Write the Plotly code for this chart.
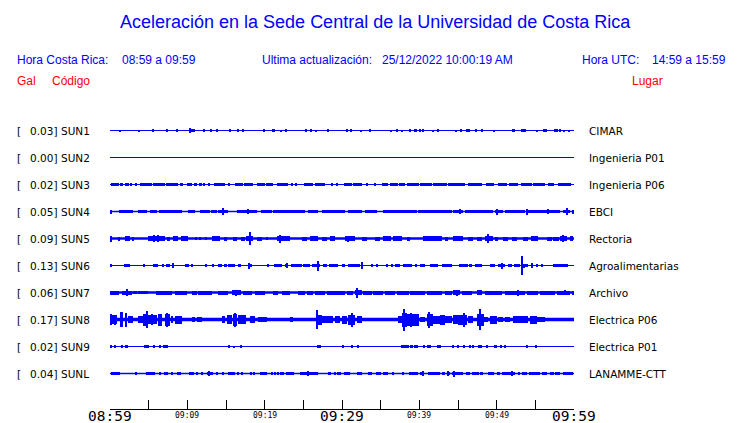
import plotly.graph_objects as go

# ---------------- data ----------------
codes = ["SUN1", "SUN2", "SUN3", "SUN4", "SUN5", "SUN6", "SUN7", "SUN8", "SUN9", "SUNL"]
peaks = ["0.03", "0.00", "0.02", "0.05", "0.09", "0.13", "0.06", "0.17", "0.02", "0.04"]
places = ["CIMAR", "Ingenieria P01", "Ingenieria P06", "EBCI", "Rectoria",
          "Agroalimentarias", "Archivo", "Electrica P06", "Electrica P01", "LANAMME-CTT"]

tick_minutes = [0, 5, 10, 15, 20, 25, 30, 35, 40, 45, 50, 55, 60]
tick_labels = ["08:59", "", "09:09", "", "09:19", "", "09:29", "", "09:39", "", "09:49", "", "09:59"]
big_labels = ["08:59", "09:29", "09:59"]

# bursts: (start minute after 08:59, end minute, half amplitude, relative units)
sun1 = [(1.2, 1.3, 1.0), (3.65, 3.75, 1.0), (5.5, 5.6, 1.3), (7.25, 7.45, 1.5), (8.55, 8.65, 1.2),
        (10.25, 10.45, 2.8), (10.45, 11.0, 1.6), (12.1, 12.2, 1.1), (13.05, 13.15, 1.1), (13.8, 13.9, 1.3),
        (15.4, 15.55, 1.5), (16.55, 16.65, 1.2), (17.15, 17.25, 1.2), (19.85, 20.0, 1.4), (21.0, 21.35, 1.3),
        (22.0, 22.1, 1.0), (22.7, 22.8, 1.3), (25.35, 25.45, 1.2), (25.95, 26.1, 1.5), (26.55, 26.65, 1.0),
        (28.1, 28.35, 1.5), (30.55, 30.65, 1.2), (31.1, 31.2, 1.3), (32.35, 32.45, 1.0), (33.5, 33.7, 1.4),
        (36.3, 36.4, 1.0), (36.95, 37.3, 1.3), (37.75, 37.85, 1.0), (38.75, 38.85, 1.2), (39.3, 39.65, 1.3),
        (40.0, 40.25, 1.3), (40.45, 40.55, 1.2), (41.7, 41.8, 1.0), (42.3, 42.5, 1.5), (44.75, 44.85, 1.0),
        (45.3, 45.5, 1.3), (46.0, 46.6, 1.3), (47.25, 47.5, 1.5), (48.05, 48.15, 1.2), (49.65, 49.75, 1.0),
        (52.0, 52.4, 1.3), (53.1, 53.8, 1.6), (55.2, 55.3, 1.0), (56.0, 56.5, 1.5), (57.45, 57.9, 1.5),
        (58.15, 58.25, 1.2), (58.7, 58.8, 1.0), (59.35, 59.45, 1.0)]
sun2 = []
sun3 = [(0.1, 1.1, 1.8), (1.3, 1.7, 1.5), (1.95, 2.45, 1.6), (2.7, 2.8, 1.4), (3.2, 3.55, 1.6),
        (3.9, 5.4, 1.7), (5.6, 7.1, 1.7), (7.3, 8.85, 1.7), (9.05, 9.5, 1.6), (9.9, 10.55, 1.7),
        (10.9, 11.2, 1.5), (11.55, 11.85, 1.5), (12.05, 12.3, 1.5), (12.7, 12.95, 1.6), (13.45, 14.85, 1.7),
        (15.35, 15.45, 1.4), (16.15, 17.2, 1.7), (17.35, 18.5, 1.7), (18.95, 20.0, 1.7), (20.15, 21.1, 1.7),
        (21.55, 23.05, 1.7), (23.5, 23.7, 1.5), (24.0, 24.15, 1.5), (25.1, 26.3, 1.7), (26.45, 27.8, 1.7),
        (28.65, 28.9, 1.5), (29.3, 29.5, 1.5), (30.25, 31.3, 1.6), (31.45, 32.55, 1.6), (33.2, 33.3, 1.4),
        (34.25, 34.35, 1.4), (35.2, 36.0, 1.7), (36.15, 37.2, 1.7), (37.35, 38.15, 1.7), (38.35, 39.9, 1.7),
        (40.05, 41.6, 1.7), (41.8, 43.6, 1.7), (43.75, 45.9, 1.7), (46.25, 48.05, 1.7), (48.6, 49.7, 1.6),
        (50.2, 51.4, 1.7), (51.55, 52.8, 1.7), (53.15, 54.6, 1.7), (54.75, 56.25, 1.7), (56.7, 57.35, 1.6),
        (57.9, 59.6, 1.7)]
sun4 = [(0.0, 0.2, 2.0), (1.1, 3.0, 1.5), (3.65, 4.75, 1.4), (5.15, 6.05, 1.4), (6.35, 9.25, 1.5),
        (10.1, 11.0, 1.4), (11.65, 12.95, 1.4), (13.05, 13.8, 1.5), (14.0, 15.3, 1.6), (14.6, 14.75, 3.3),
        (16.4, 18.95, 1.6), (17.85, 17.95, 2.5), (19.5, 20.9, 1.5), (21.1, 25.2, 1.5), (25.65, 26.95, 1.5),
        (27.35, 30.4, 1.5), (30.75, 32.55, 1.5), (33.0, 34.5, 1.4), (35.35, 39.65, 1.5), (39.85, 44.2, 1.5),
        (44.4, 45.7, 1.6), (45.2, 45.3, 2.5), (45.9, 49.55, 1.5), (49.8, 50.85, 1.5), (50.05, 50.15, 3.0),
        (51.1, 53.65, 1.5), (53.75, 56.5, 1.5), (53.85, 53.95, 3.0), (56.55, 56.65, 2.2), (56.7, 58.2, 1.5),
        (58.6, 59.5, 1.6), (59.0, 59.1, 3.3), (59.7, 60.0, 2.0)]
sun5 = [(0.0, 0.3, 3.0), (1.1, 1.3, 2.0), (2.0, 2.6, 2.2), (2.8, 3.1, 2.0), (4.95, 7.1, 2.5),
        (5.6, 5.7, 3.2), (6.1, 6.2, 3.2), (7.35, 7.75, 2.0), (8.2, 8.85, 2.2), (9.2, 10.1, 2.2),
        (11.0, 11.2, 1.8), (11.6, 11.7, 1.8), (12.3, 12.5, 1.8), (13.15, 14.2, 2.3), (14.85, 15.1, 2.0),
        (15.95, 16.4, 2.0), (17.0, 17.45, 2.0), (17.65, 18.55, 2.5), (18.05, 18.15, 6.3), (18.95, 19.6, 2.0),
        (20.2, 20.3, 1.8), (21.55, 23.3, 2.5), (21.95, 22.05, 4.0), (24.8, 25.45, 2.0), (25.85, 26.95, 2.2),
        (27.35, 28.0, 2.0), (28.45, 29.1, 2.2), (30.4, 31.7, 2.2), (30.75, 30.85, 3.0), (32.55, 33.2, 2.0),
        (34.25, 34.9, 2.0), (35.35, 36.4, 2.2), (36.65, 37.7, 2.5), (38.35, 38.8, 2.0), (40.5, 42.9, 2.2),
        (43.3, 43.75, 2.0), (44.4, 45.7, 2.5), (46.35, 47.0, 2.0), (47.4, 48.05, 2.0), (48.5, 49.55, 2.5),
        (48.85, 48.95, 4.5), (49.8, 50.2, 2.0), (50.85, 51.5, 2.0), (51.95, 52.6, 2.0), (53.45, 54.1, 2.0),
        (54.5, 55.4, 2.5), (56.45, 57.1, 2.0), (57.3, 58.0, 2.0), (58.2, 59.05, 2.5), (58.55, 58.65, 3.5),
        (59.5, 59.9, 2.2)]
sun6 = [(0.0, 0.2, 1.5), (1.85, 2.65, 1.8), (4.4, 4.5, 1.2), (5.6, 6.25, 1.6), (6.75, 7.0, 1.5),
        (7.3, 7.75, 1.6), (8.05, 8.3, 2.5), (9.7, 10.25, 1.6), (10.6, 10.7, 1.2), (12.35, 12.6, 1.3),
        (13.2, 13.5, 1.4), (14.0, 14.45, 1.5), (14.85, 15.1, 1.4), (15.3, 16.15, 1.5), (16.5, 16.95, 1.6),
        (17.8, 18.4, 1.8), (17.9, 18.0, 3.0), (20.35, 20.5, 1.3), (21.2, 22.2, 1.6), (22.6, 23.05, 1.8),
        (22.8, 22.9, 2.5), (23.4, 24.8, 1.6), (25.0, 25.85, 1.6), (26.1, 27.15, 1.8), (26.8, 26.9, 5.0),
        (27.6, 28.0, 1.5), (28.3, 29.5, 1.6), (30.05, 30.4, 1.4), (30.75, 32.35, 1.6), (32.45, 32.75, 2.0),
        (32.5, 32.6, 3.5), (33.85, 34.05, 1.4), (34.45, 34.55, 1.2), (35.65, 36.0, 1.4), (36.4, 36.5, 1.2),
        (36.85, 37.5, 1.6), (37.95, 39.0, 1.6), (39.45, 39.65, 1.4), (40.1, 40.75, 1.6), (41.4, 42.45, 1.6),
        (42.9, 44.2, 1.6), (45.15, 46.35, 1.6), (46.55, 46.75, 1.4), (47.2, 48.05, 1.6), (49.15, 49.8, 1.5),
        (50.2, 51.1, 1.8), (50.6, 50.7, 3.0), (51.5, 51.95, 1.5), (52.3, 53.0, 1.6), (53.25, 53.6, 2.0),
        (53.28, 53.38, 9.5), (53.75, 54.0, 1.6), (54.5, 54.75, 2.5), (55.15, 55.4, 1.4), (55.8, 56.0, 1.4),
        (57.3, 59.25, 1.6)]
sun7 = [(0.0, 1.15, 2.0), (1.5, 2.8, 2.0), (2.2, 2.3, 3.5), (3.0, 3.45, 1.8), (3.65, 4.95, 1.8),
        (5.9, 8.0, 2.0), (8.4, 9.9, 2.0), (10.55, 11.2, 2.0), (11.4, 13.15, 2.0), (14.0, 15.3, 2.0),
        (15.75, 17.0, 2.2), (16.25, 16.35, 3.0), (17.25, 18.3, 2.0), (18.75, 20.05, 2.0), (21.1, 21.75, 2.0),
        (22.2, 23.3, 2.0), (24.35, 25.2, 2.0), (25.45, 26.3, 2.0), (26.5, 27.8, 2.0), (28.0, 30.4, 2.0),
        (30.6, 31.45, 2.0), (31.7, 32.55, 2.5), (31.95, 32.05, 5.0), (32.75, 33.85, 2.0), (34.05, 35.35, 2.0),
        (35.55, 36.85, 2.0), (37.05, 38.6, 2.0), (38.8, 40.75, 2.0), (40.95, 42.9, 2.0), (43.3, 44.2, 2.0),
        (44.4, 45.25, 2.2), (44.8, 44.9, 3.0), (45.5, 46.75, 2.0), (47.4, 48.05, 2.5), (48.5, 50.65, 2.0),
        (51.1, 53.65, 2.0), (52.75, 52.85, 3.0), (53.9, 55.4, 2.0), (55.6, 57.55, 2.0), (57.75, 59.5, 2.0),
        (58.8, 58.9, 2.5), (59.7, 60.0, 2.0)]
sun8 = [(0.0, 0.85, 4.5), (0.1, 0.2, 5.5), (0.6, 0.7, 5.0), (1.4, 1.65, 7.3), (1.95, 2.15, 7.0),
        (2.35, 3.0, 3.3), (3.65, 4.3, 3.3), (4.3, 4.95, 6.0), (4.7, 4.8, 8.5), (4.95, 6.05, 4.5),
        (5.4, 5.5, 5.5), (6.25, 6.7, 6.0), (7.1, 7.75, 6.0), (7.35, 7.45, 7.0), (7.85, 8.2, 3.3),
        (8.4, 9.25, 4.0), (10.55, 11.0, 2.7), (11.2, 11.85, 2.7), (14.45, 14.85, 3.3), (15.1, 15.75, 4.5),
        (15.95, 16.4, 6.0), (16.15, 16.25, 7.0), (16.6, 17.65, 4.5), (18.1, 18.75, 3.3), (19.2, 20.25, 2.2),
        (23.3, 23.7, 2.2), (26.65, 27.35, 5.0), (26.75, 26.85, 9.5), (27.35, 28.9, 3.3), (29.1, 29.75, 3.3),
        (29.95, 30.6, 4.0), (30.8, 31.7, 5.0), (31.2, 31.3, 7.0), (31.9, 32.55, 3.3), (37.3, 37.7, 3.3),
        (37.7, 38.4, 7.0), (37.95, 38.05, 11.0), (38.4, 39.9, 6.0), (38.9, 39.0, 7.0), (40.1, 40.75, 2.7),
        (41.0, 41.8, 6.0), (41.15, 41.25, 8.0), (41.8, 42.7, 4.0), (42.7, 43.3, 5.0), (43.3, 44.2, 3.3),
        (44.4, 45.05, 4.3), (45.05, 46.1, 5.0), (45.75, 45.85, 7.0), (46.3, 47.0, 3.3), (47.4, 48.3, 6.0),
        (47.8, 47.9, 10.5), (48.3, 48.9, 2.7), (49.1, 50.0, 4.0), (50.2, 50.85, 2.7), (51.05, 51.7, 2.3),
        (52.15, 53.2, 3.3), (53.2, 54.1, 3.3), (54.3, 55.2, 4.0), (55.2, 56.25, 2.7)]
sun9 = [(0.1, 0.3, 1.5), (0.6, 0.7, 1.2), (1.4, 1.7, 1.5), (1.95, 2.35, 1.5), (4.4, 5.05, 1.5),
        (5.65, 5.75, 1.2), (6.35, 6.6, 1.5), (6.9, 7.45, 1.5), (15.4, 15.5, 1.2), (15.95, 16.15, 1.0),
        (16.8, 17.1, 1.2), (26.75, 27.3, 1.5), (30.0, 30.2, 1.4), (31.15, 31.45, 1.4), (31.95, 32.2, 1.4),
        (37.6, 38.65, 1.5), (38.9, 39.15, 1.4), (39.35, 39.8, 1.5), (40.5, 40.6, 1.2), (40.95, 41.5, 1.5),
        (42.3, 42.8, 1.5), (44.3, 44.4, 1.2), (44.9, 45.15, 1.4), (45.7, 45.9, 1.4), (46.45, 46.55, 1.2),
        (46.9, 47.1, 1.3), (47.55, 48.05, 1.5), (48.75, 48.85, 1.1), (49.75, 50.0, 1.4), (50.5, 50.6, 1.1),
        (51.05, 51.15, 1.1), (53.85, 53.95, 1.2), (55.0, 55.1, 1.2)]
sunl = [(0.1, 1.3, 1.7), (3.35, 3.45, 1.3), (4.6, 5.8, 1.7), (6.45, 6.55, 1.3), (7.0, 7.55, 1.7),
        (7.95, 8.05, 1.3), (8.6, 9.2, 1.7), (10.2, 10.8, 1.7), (11.25, 11.35, 1.3), (11.8, 11.9, 1.3),
        (12.55, 13.3, 1.8), (12.75, 12.85, 2.5), (13.75, 13.85, 1.3), (14.45, 14.75, 1.5), (15.3, 16.15, 1.7),
        (16.45, 16.55, 1.3), (16.95, 17.25, 1.4), (18.15, 18.25, 1.2), (18.6, 18.7, 1.2), (19.4, 20.35, 1.7),
        (20.9, 21.0, 1.3), (21.3, 21.4, 1.3), (21.65, 21.75, 1.3), (22.0, 22.1, 1.3), (22.35, 22.45, 1.3),
        (22.8, 22.9, 1.3), (23.05, 23.85, 1.6), (24.55, 26.95, 1.8), (25.5, 25.6, 2.2), (28.15, 28.6, 1.6),
        (29.0, 29.1, 1.3), (29.4, 29.85, 1.5), (30.2, 31.05, 1.6), (31.9, 32.65, 1.6), (33.4, 33.85, 1.5),
        (34.35, 35.05, 1.7), (35.35, 36.0, 1.6), (36.5, 36.75, 1.4), (37.7, 38.0, 1.4), (38.6, 39.85, 1.7),
        (40.1, 40.65, 1.7), (40.45, 40.55, 2.5), (41.1, 42.65, 1.8), (42.95, 43.3, 1.5), (43.55, 43.95, 1.7),
        (43.6, 43.7, 2.5), (44.2, 45.7, 1.8), (44.45, 44.55, 3.0), (46.05, 46.55, 1.6), (46.75, 47.7, 1.7),
        (47.95, 48.2, 1.4), (48.85, 49.7, 1.7), (50.0, 50.45, 1.5), (50.65, 52.35, 1.8), (51.95, 52.05, 2.5),
        (52.8, 53.0, 1.4), (53.3, 53.9, 1.6), (54.2, 55.6, 1.7), (55.9, 56.45, 1.6), (56.9, 57.35, 1.5),
        (57.55, 58.2, 1.6), (58.6, 59.9, 1.7)]

bursts = [sun1, sun2, sun3, sun4, sun5, sun6, sun7, sun8, sun9, sunl]

# ---------------- styling ----------------
BLUE = "#0000ff"
RED = "#ff0000"
ROW_PX = 27.0            # pixels per row unit
AMP = 1.0 / ROW_PX       # relative amplitude -> row units
SHIFT = 0.5 / ROW_PX     # half-pixel offset so thin lines are crisp
base_widths = [1.0, 1.0, 1.2, 1.5, 2.5, 1.2, 2.5, 3.5, 1.0, 1.5]

W, H = 740, 423
L, R, T, B = 110, 166, 103, 14
PW, PH = W - L - R, H - T - B


def ax(px):
    return (px - L) / PW


def ay(py):
    return (H - B - py) / PH


fig = go.Figure()

for i, data in enumerate(bursts):
    y0 = -i
    fig.add_trace(go.Scatter(x=[tick_minutes[0], tick_minutes[-1]], y=[y0, y0], mode="lines",
                             line=dict(color=BLUE, width=base_widths[i]),
                             hoverinfo="skip", showlegend=False))
    if data:
        xs = [(a + b) / 2 for a, b, h in data]
        ws = [max(b - a, 0.13) for a, b, h in data]
        bs = [y0 - h * AMP for a, b, h in data]
        hs = [2 * h * AMP for a, b, h in data]
        fig.add_trace(go.Bar(x=xs, y=hs, base=bs, width=ws,
                             marker=dict(color=BLUE, line=dict(width=0)),
                             hoverinfo="skip", showlegend=False))

fig.update_layout(
    width=W, height=H,
    margin=dict(l=L, r=R, t=T, b=B, autoexpand=False),
    paper_bgcolor="white", plot_bgcolor="white",
    barmode="overlay", bargap=0,
    showlegend=False,
    xaxis=dict(range=[0, 60], tickmode="array", tickvals=tick_minutes,
               ticktext=[""] * len(tick_minutes),
               ticks="inside", ticklen=9, tickwidth=1, tickcolor="black",
               showline=True, linecolor="black", linewidth=1,
               showgrid=False, zeroline=False),
    yaxis=dict(range=[-10.3333 + SHIFT, 1.0 + SHIFT], visible=False, fixedrange=True),
)

ann = []
hdr_font = dict(family="Liberation Sans, Arial", size=12, color=BLUE)
red_font = dict(family="Liberation Sans, Arial", size=12, color=RED)


def txt(x, y, s, font, anchor="left"):
    ann.append(dict(x=ax(x), y=ay(y), xref="paper", yref="paper", text=s, showarrow=False,
                    xanchor=anchor, yanchor="middle", font=font))


txt(375.5, 22, "Aceleración en la Sede Central de la Universidad de Costa Rica",
    dict(family="Liberation Sans, Arial", size=18, color=BLUE), "center")
txt(15, 60, "Hora Costa Rica:", hdr_font)
txt(120, 60, "08:59 a 09:59", hdr_font)
txt(260, 60, "Ultima actualización:", hdr_font)
txt(380, 60, "25/12/2022 10:00:19 AM", hdr_font)
txt(580, 60, "Hora UTC:", hdr_font)
txt(650, 60, "14:59 a 15:59", hdr_font)
txt(15, 81, "Gal", red_font)
txt(50, 81, "Código", red_font)
txt(630, 81, "Lugar", red_font)

# time-axis labels drawn under the axis line
for tv, tl in zip(tick_minutes, tick_labels):
    if not tl:
        continue
    big = tl in big_labels
    ann.append(dict(x=tv, y=ay(415.5 if big else 415), xref="x", yref="paper", text=tl,
                    showarrow=False, xanchor="center", yanchor="middle",
                    font=dict(family="DejaVu Sans Mono", size=14.5 if big else 8, color="black")))

row_font = dict(family="DejaVu Sans", size=10.5, color="black")
for i in range(len(codes)):
    for px, s in [(15, "["), (28, peaks[i] + "]"), (59, codes[i]), (587, places[i])]:
        ann.append(dict(x=ax(px), y=-i, xref="paper", yref="y", text=s, showarrow=False,
                        xanchor="left", yanchor="middle", font=row_font))

fig.update_layout(annotations=ann)
fig.write_html("out.html", config={"displayModeBar": False},
               post_script="document.body.style.margin='0';")
